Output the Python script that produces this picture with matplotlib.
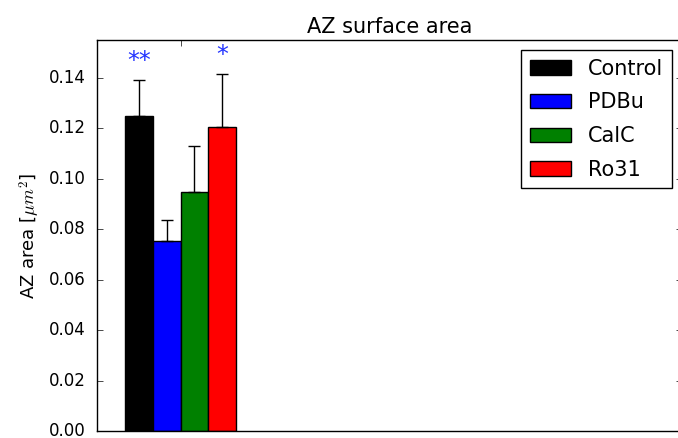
import matplotlib
matplotlib.use('Agg')
import matplotlib.pyplot as plt
import numpy as np

plt.style.use('classic')

groups = ['Control', 'PDBu', 'CalC', 'Ro31']
colors = ['black', 'blue', 'green', 'red']
cap_colors = ['black', '#000080', '#004000', '#800000']
means = [0.125, 0.0752, 0.0948, 0.1205]
sems = [0.014, 0.0085, 0.018, 0.021]
stars = ['**', '', '', '*']

fig = plt.figure(figsize=(6.78, 4.38), dpi=100)
# the original image is cropped on the right, so the axes run past the edge
ax = fig.add_axes([0.143, 0.0160, 0.8628, 0.8927])

width = 1.0
for i in range(len(groups)):
    bars = ax.bar(i * width, means[i], width, align='edge', color=colors[i],
                  edgecolor='black', label=groups[i],
                  yerr=[[0], [sems[i]]], ecolor='black',
                  error_kw=dict(capsize=4, elinewidth=1, capthick=1))
    err = bars.errorbar
    if err is not None:
        for cap in err.lines[1]:
            cap.set_color(cap_colors[i])
    if stars[i]:
        ax.text(i * width + width / 2, means[i] + sems[i] + 0.0075, stars[i],
                ha='center', va='center', color='#2233ff', fontsize=17)

ax.set_xlim(-1, 20)
ax.set_ylim(0, 0.155)
ax.set_xticks([2])
ax.set_xticklabels([''])
ax.set_yticks(np.arange(0, 0.141, 0.02))
ax.set_yticklabels(['%.2f' % v for v in np.arange(0, 0.141, 0.02)], fontsize=12)
ax.tick_params(axis='y', pad=8)
ax.set_ylabel(r'AZ area [$\mu m^2$]', fontsize=13)
ax.set_title('AZ surface area', fontsize=15)
ax.legend(loc='upper right', fontsize=15, labelspacing=0.66)

fig.savefig('out.png', dpi=100)
